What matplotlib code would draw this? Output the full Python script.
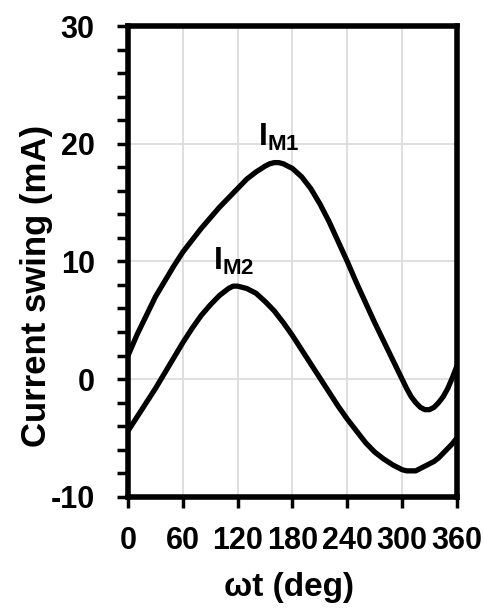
import matplotlib
matplotlib.use("Agg")
import matplotlib.pyplot as plt
from matplotlib.ticker import MultipleLocator

# phase angle (deg) and the two current swings (mA)
wt_deg = [0, 10, 20, 30, 40, 50, 60, 70, 80, 90, 100, 110, 115, 120, 130, 140,
          150, 155, 160, 165, 170, 180, 190, 200, 210, 220, 230, 240, 250, 260,
          270, 280, 290, 295, 300, 305, 310, 315, 320, 325, 330, 335, 340, 345,
          350, 355, 360]
i_m1 = [2.0, 3.8, 5.4, 7.0, 8.3, 9.6, 10.8, 11.8, 12.8, 13.7, 14.6, 15.4, 15.8,
        16.2, 17.0, 17.6, 18.1, 18.3, 18.4, 18.4, 18.3, 17.9, 17.2, 16.2, 14.9,
        13.4, 11.7, 10.0, 8.2, 6.5, 4.8, 3.2, 1.6, 0.8, 0.0, -0.8, -1.5, -2.0,
        -2.4, -2.6, -2.6, -2.4, -2.0, -1.5, -0.8, 0.1, 1.1]
i_m2 = [-4.4, -3.2, -2.0, -0.8, 0.5, 1.8, 3.1, 4.3, 5.4, 6.3, 7.1, 7.7, 7.9,
        7.9, 7.7, 7.3, 6.6, 6.2, 5.8, 5.3, 4.8, 3.7, 2.5, 1.3, 0.1, -1.1, -2.3,
        -3.4, -4.4, -5.4, -6.2, -6.8, -7.3, -7.5, -7.7, -7.8, -7.8, -7.8, -7.6,
        -7.4, -7.2, -7.0, -6.7, -6.3, -5.9, -5.5, -5.0]

x_ticks = [0, 60, 120, 180, 240, 300, 360]
y_ticks = [-10, 0, 10, 20, 30]

plt.rcParams['font.family'] = ['Liberation Sans', 'DejaVu Sans']
plt.rcParams['font.weight'] = 'bold'
plt.rcParams['axes.unicode_minus'] = False
plt.rcParams['mathtext.fontset'] = 'custom'
plt.rcParams['mathtext.rm'] = 'Liberation Sans:bold'
plt.rcParams['mathtext.bf'] = 'Liberation Sans:bold'
plt.rcParams['mathtext.it'] = 'Liberation Sans:bold'

fig = plt.figure(figsize=(4.85, 6.08), dpi=100)
ax = fig.add_axes([0.264, 0.183, 0.678, 0.774])

ax.plot(wt_deg, i_m1, color='black', lw=3.8, solid_joinstyle='round')
ax.plot(wt_deg, i_m2, color='black', lw=3.8, solid_joinstyle='round')

ax.set_xlim(0, 360)
ax.set_ylim(-10, 30)
ax.set_xticks(x_ticks)
ax.set_yticks(y_ticks)
ax.yaxis.set_minor_locator(MultipleLocator(2))
ax.grid(True, color='#dcdcdc', lw=1.3)
ax.set_axisbelow(True)

for s in ax.spines.values():
    s.set_linewidth(4)
ax.tick_params(axis='both', which='both', direction='out', width=2.5, length=8)
ax.tick_params(axis='x', labelsize=22, pad=13)
ax.tick_params(axis='y', labelsize=22, pad=16)

ax.text(165, 19.8, r'$\mathbf{I}_{\mathbf{M1}}$', fontsize=23, ha='center', va='baseline')
ax.text(116, 9.3, r'$\mathbf{I}_{\mathbf{M2}}$', fontsize=23, ha='center', va='baseline')

ax.set_xlabel('ωt (deg)', fontsize=24, fontweight='bold', va='center')
ax.xaxis.set_label_coords(0.489, -0.192)
ax.set_ylabel('Current swing (mA)', fontsize=25, fontweight='bold', va='center')
ax.yaxis.set_label_coords(-0.277, 0.448)

fig.savefig('out.png', dpi=100)
